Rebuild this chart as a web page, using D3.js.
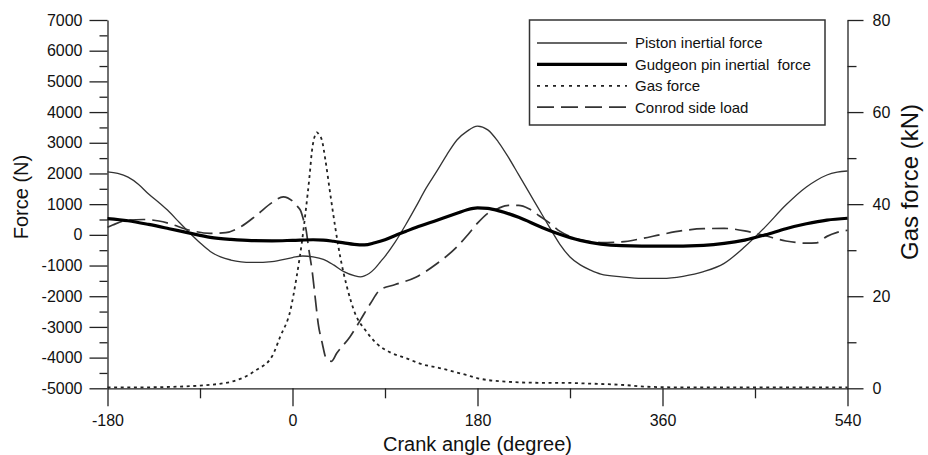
<!DOCTYPE html>
<html><head><meta charset="utf-8">
<script src="https://cdn.jsdelivr.net/npm/d3@7"></script>
<style>
html,body{margin:0;padding:0;background:#fff;}
svg text{font-family:"Liberation Sans",Arial,Helvetica,sans-serif;fill:#111;}
</style></head>
<body>
<svg id="c" width="928" height="455"></svg>
<script>
// ---- data ----
const xTicks = [-180, 0, 180, 360, 540];
const forceTicks = [-5000,-4000,-3000,-2000,-1000,0,1000,2000,3000,4000,5000,6000,7000];
const gasTicks = [0, 20, 40, 60, 80];

const pistonAngle = [-180,-170,-160,-150,-140,-130,-120,-110,-100,-90,-80,-70,-60,-50,-40,-20,0,10,20,30,40,50,60,66,70,80,85,90,100,110,120,130,140,150,160,170,180,190,200,210,220,230,240,250,260,270,280,290,300,320,340,360,380,400,420,440,460,480,500,510,520,530,540];
const pistonForce = [2050,2000,1880,1650,1330,1050,750,400,60,-260,-540,-720,-820,-880,-900,-870,-740,-690,-720,-800,-980,-1200,-1330,-1370,-1340,-1100,-900,-700,-230,320,910,1520,2050,2600,3090,3380,3540,3420,3040,2530,1960,1390,820,250,-300,-720,-980,-1150,-1280,-1370,-1420,-1420,-1350,-1200,-930,-390,260,970,1560,1780,1950,2040,2080];

const pinAngle = [-180,-160,-140,-120,-100,-80,-60,-40,-20,0,20,30,40,50,60,70,80,90,100,110,120,140,160,170,180,190,200,220,240,250,260,280,300,320,360,400,420,440,460,480,500,520,540];
const pinForce = [530,460,340,200,55,-80,-150,-190,-195,-180,-160,-170,-210,-260,-310,-330,-260,-160,-20,110,240,470,700,820,880,860,790,570,280,140,20,-180,-300,-350,-370,-340,-280,-170,0,200,360,480,540];

const gasAngle = [-180,-150,-120,-90,-60,-35,-20,-12,-2,4,9,13,16.5,19,22,23.7,26,28.6,32,36.7,41.5,46.4,53,61,71,82,95,111,125,143,169,182,211,240,260,292,324,344,380,540];
const gasForce = [0.2,0.2,0.3,0.6,1.4,4.0,6.9,11.2,17,24.2,31.5,38.8,45.9,51.7,55,55.6,55,53.9,49.6,42.3,35.1,28.6,22,16.2,12.6,9.7,7.8,6.5,5.3,4.4,2.9,2.1,1.4,1.2,1.2,1.0,0.7,0.35,0.2,0.2];

const conrodAngle = [-180,-175,-160,-145,-130,-120,-100,-80,-65,-50,-35,-20,-9,0,5,8,11,13,16,19,22,25,29,32,35,38,43,56,66,76,85,100,120,140,160,170,180,190,200,210,220,230,240,250,260,270,280,300,320,340,360,380,400,420,440,460,480,500,510,520,530,540];
const conrodForce = [250,320,480,500,450,370,150,50,70,270,640,1050,1240,1100,920,780,450,200,-500,-1150,-2020,-2890,-3540,-3970,-4100,-4120,-3860,-3320,-2780,-2230,-1800,-1620,-1380,-950,-390,-20,380,700,860,960,960,850,620,390,120,-50,-160,-250,-230,-120,20,140,200,210,130,-30,-200,-270,-260,-50,80,150];

const legendLabels = ["Piston inertial force","Gudgeon pin inertial  force","Gas force","Conrod side load"];

// ---- chart ----
const svg = d3.select("#c");
const L = 107.5, R = 847.5, T = 20, B = 388.3;
const x = d3.scaleLinear().domain([-180, 540]).range([L, R]);
const yF = d3.scaleLinear().domain([-5000, 7000]).range([B, T]);
const yG = d3.scaleLinear().domain([0, 80]).range([B, T]);

const axisColor = "#222";
const fmt = d => String(d);
function styleAxis(g, fs){
  g.select(".domain").attr("stroke", axisColor).attr("stroke-width", 1.3);
  g.selectAll(".tick line").attr("stroke", axisColor).attr("stroke-width", 1.3);
  g.selectAll(".tick text").attr("font-size", fs).attr("fill","#111")
    .attr("font-family",'"Liberation Sans",Arial,sans-serif');
}

// minor ticks
svg.append("g").attr("transform",`translate(0,${B})`)
  .call(d3.axisBottom(x).tickValues(d3.range(-90, 540, 180)).tickSize(10).tickFormat("").tickSizeOuter(0))
  .call(g=>{styleAxis(g,0); g.select(".domain").remove();});
svg.append("g").attr("transform",`translate(${L},0)`)
  .call(d3.axisLeft(yF).tickValues(d3.range(-4500, 7000, 1000)).tickSize(8).tickFormat("").tickSizeOuter(0))
  .call(g=>{styleAxis(g,0); g.select(".domain").remove();});
svg.append("g").attr("transform",`translate(${R},0)`)
  .call(d3.axisRight(yG).tickValues(d3.range(10, 80, 20)).tickSize(9).tickFormat("").tickSizeOuter(0))
  .call(g=>{styleAxis(g,0); g.select(".domain").remove();});

// major axes
svg.append("g").attr("transform",`translate(0,${B})`)
  .call(d3.axisBottom(x).tickValues(xTicks).tickSize(18).tickPadding(8).tickSizeOuter(0).tickFormat(fmt))
  .call(g=>styleAxis(g,16));
svg.append("g").attr("transform",`translate(${L},0)`)
  .call(d3.axisLeft(yF).tickValues(forceTicks).tickSize(18).tickPadding(7).tickSizeOuter(0).tickFormat(fmt))
  .call(g=>styleAxis(g,16));
svg.append("g").attr("transform",`translate(${R},0)`)
  .call(d3.axisRight(yG).tickValues(gasTicks).tickSize(16).tickPadding(9).tickSizeOuter(0).tickFormat(fmt))
  .call(g=>styleAxis(g,16));

// titles
svg.append("text").attr("x", 477.5).attr("y", 451).attr("text-anchor","middle").attr("font-size",20).text("Crank angle (degree)");
svg.append("text").attr("transform","translate(28,197) rotate(-90)").attr("text-anchor","middle").attr("font-size",20).text("Force (N)");
svg.append("text").attr("transform","translate(918,182) rotate(-90)").attr("text-anchor","middle").attr("font-size",24).text("Gas force (kN)");

// lines
const curve = d3.curveMonotoneX;
const lineF = d3.line().x(d=>x(d[0])).y(d=>yF(d[1])).curve(curve);
const lineG = d3.line().x(d=>x(d[0])).y(d=>yG(d[1])).curve(curve);

const series = [
  {a: gasAngle, v: gasForce, gen: lineG, w: 1.8, dash: "3,3.6", col:"#222"},
  {a: conrodAngle, v: conrodForce, gen: lineF, w: 1.7, dash: "16,7", col:"#333"},
  {a: pistonAngle, v: pistonForce, gen: lineF, w: 1.3, dash: null, col:"#333"},
  {a: pinAngle, v: pinForce, gen: lineF, w: 3.2, dash: null, col:"#000"}
];
series.forEach(s=>{
  const pts = s.a.map((d,i)=>[d, s.v[i]]);
  svg.append("path").attr("d", s.gen(pts)).attr("fill","none")
    .attr("stroke", s.col).attr("stroke-width", s.w)
    .attr("stroke-dasharray", s.dash).attr("stroke-linejoin","round");
});

// legend
const lg = svg.append("g");
lg.append("rect").attr("x",529.5).attr("y",20).attr("width",295.5).attr("height",105)
  .attr("fill","#fff").attr("stroke","#333").attr("stroke-width",1.5);
const lstyles = [
  {w:1.3, dash:null, col:"#333"},
  {w:3.2, dash:null, col:"#000"},
  {w:1.8, dash:"3,5", col:"#222"},
  {w:1.7, dash:"17,7", col:"#333"}
];
legendLabels.forEach((t,i)=>{
  const yy = 43 + i*21.4;
  lg.append("line").attr("x1",537).attr("x2",627).attr("y1",yy).attr("y2",yy)
    .attr("stroke",lstyles[i].col).attr("stroke-width",lstyles[i].w).attr("stroke-dasharray",lstyles[i].dash);
  lg.append("text").attr("x",635).attr("y",yy+5.3).attr("font-size",15).style("white-space","pre").text(t);
});
</script>
</body></html>
